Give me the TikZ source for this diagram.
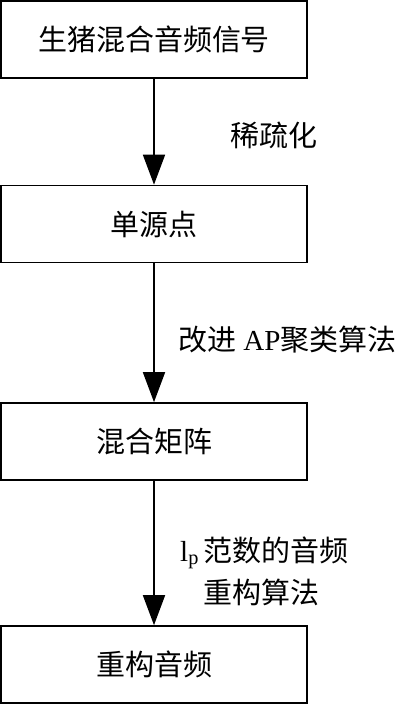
\documentclass[tikz,border=0pt]{standalone}
\usepackage{fontspec}
\setmainfont{Noto Sans CJK SC}
\newfontfamily\tnr{Liberation Serif}
\usepackage{tikz}
\usetikzlibrary{positioning, arrows.meta}

\tikzset{
  stepbox/.style={draw, line width=1.6pt, minimum width=306pt, minimum height=77pt, inner sep=0pt},
  flow/.style={-{Triangle[length=30pt,width=22pt]}, line width=1.6pt},
  note/.style={anchor=west, inner sep=0pt, align=left}
}

\begin{document}
\begin{tikzpicture}[x=1pt, y=1pt, font=\fontsize{29}{42}\selectfont]
  \useasboundingbox (0,0) rectangle (401,-705);
  % boxes
  \node[stepbox] (signal) at (154,-39.5) {生猪混合音频信号};
  \node[stepbox] (source) at (154,-224) {单源点};
  \node[stepbox] (matrix) at (154,-441.5) {混合矩阵};
  \node[stepbox] (audio)  at (154,-664.5) {重构音频};
  % arrows
  \draw[flow] (signal) -- (source);
  \draw[flow] (source) -- (matrix);
  \draw[flow] (matrix) -- (audio);
  % labels
  \node[note] (sparse) at (230,-135) {稀疏化};
  \node[note] (cluster) at (178,-340) {改进{\tnr\ AP}聚类算法};
  \node[note] (rebuild) at (180,-571) {{\tnr l\textsubscript{p}}\,范数的音频\\\hphantom{{\tnr l\textsubscript{p}}\,}重构算法};
\end{tikzpicture}
\end{document}
